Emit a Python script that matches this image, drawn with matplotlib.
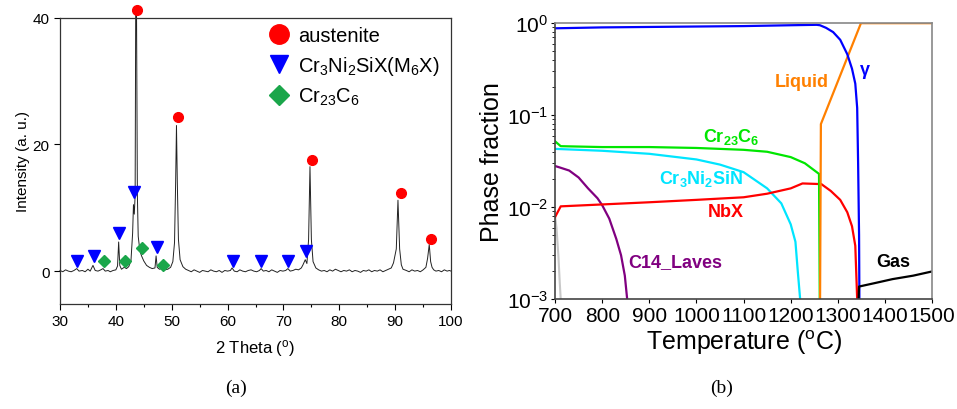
import matplotlib
matplotlib.use("Agg")
import matplotlib.pyplot as plt
from matplotlib.lines import Line2D
from matplotlib.ticker import MultipleLocator

plt.rcParams['font.family'] = ['Liberation Sans', 'DejaVu Sans']
plt.rcParams['mathtext.default'] = 'regular'

# ---- (a) XRD pattern ----
xrd_theta = [30.0, 30.5, 31.0, 31.5, 32.0, 32.5, 33.0, 33.4, 34.0, 34.5, 35.0, 35.4,
             35.9, 36.3, 36.8, 37.3, 37.7, 38.1, 38.6, 39.0, 39.5, 40.0, 40.3, 40.5,
             40.7, 41.0, 41.5, 41.9, 42.3, 42.7, 43.0, 43.15, 43.3, 43.45, 43.55, 43.7,
             43.85, 44.0, 44.3, 44.6, 45.0, 45.5, 46.0, 46.5, 47.0, 47.2, 47.4, 47.8,
             48.3, 48.8, 49.3, 49.8, 50.2, 50.5, 50.7, 50.85, 51.0, 51.2, 51.5, 52.0,
             52.5, 53.0, 53.5, 54.0, 54.5, 55.0, 55.5, 56.0, 56.5, 57.0, 57.5, 58.0,
             58.5, 59.0, 59.5, 60.0, 60.5, 60.8, 61.2, 61.7, 62.2, 62.7, 63.2, 63.7,
             64.2, 64.7, 65.2, 65.7, 66.0, 66.4, 66.9, 67.4, 67.9, 68.4, 68.9, 69.4,
             69.9, 70.4, 70.8, 71.2, 71.7, 72.2, 72.7, 73.2, 73.5, 73.9, 74.2, 74.5,
             74.75, 75.0, 75.3, 75.8, 76.3, 76.8, 77.3, 77.8, 78.3, 78.8, 79.3, 79.8,
             80.3, 80.8, 81.3, 81.8, 82.3, 82.8, 83.3, 83.8, 84.3, 84.8, 85.3, 85.8,
             86.3, 86.8, 87.3, 87.8, 88.3, 88.8, 89.3, 89.7, 90.2, 90.5, 90.8, 91.1,
             91.4, 92.0, 92.5, 93.0, 93.5, 94.0, 94.5, 95.0, 95.5, 95.8, 96.1, 96.35,
             96.6, 96.9, 97.3, 97.8, 98.3, 98.8, 99.3, 99.7, 100.0]
xrd_intensity = [0.1, -0.1, 0.2, 0.0, -0.1, 0.1, 0.4, 0.0, 0.1, -0.1, 0.3, 0.0,
                 0.9, 0.1, 0.0, 0.2, 0.4, 0.0, 0.1, -0.1, 0.1, 0.2, 0.8, 4.6,
                 0.9, 0.3, 0.6, 0.4, 0.7, 1.6, 6.0, 10.5, 9.0, 12.0, 41.0, 41.0,
                 12.0, 5.5, 3.2, 2.4, 1.6, 0.9, 0.6, 0.4, 0.5, 2.4, 0.6, 0.3,
                 0.4, 0.2, 0.3, 0.6, 1.5, 4.5, 14.0, 23.0, 14.0, 5.0, 1.8, 0.7,
                 0.3, 0.1, -0.1, 0.2, 0.0, -0.2, 0.1, 0.0, -0.1, 0.2, 0.0, -0.1,
                 0.1, -0.2, 0.1, 0.0, 0.1, 0.5, 0.0, -0.1, 0.2, 0.0, -0.1, 0.1,
                 0.2, 0.0, -0.1, 0.1, 0.4, 0.0, 0.1, -0.1, 0.2, 0.0, -0.2, 0.1,
                 0.0, 0.1, 0.4, 0.0, 0.1, 0.3, 0.2, 0.5, 1.0, 1.8, 1.2, 5.0,
                 16.5, 5.0, 1.5, 0.5, 0.2, 0.0, 0.1, -0.1, 0.2, 0.0, 0.3, 0.1,
                 -0.1, 0.1, 0.0, 0.2, -0.1, 0.1, 0.0, -0.2, 0.1, 0.0, 0.2, -0.1,
                 0.1, 0.0, 0.2, -0.1, 0.1, 0.3, 0.5, 1.3, 3.5, 11.2, 3.5, 1.0,
                 0.3, 0.1, -0.1, 0.2, 0.0, 0.1, -0.1, 0.2, 0.6, 2.0, 4.2, 1.5,
                 0.6, 0.2, 0.0, 0.1, -0.1, 0.2, 0.0, 0.1, 0.0]

austenite_x = [43.8, 51.1, 75.1, 91.0, 96.4]
austenite_y = [41.3, 24.4, 17.5, 12.4, 5.1]
m6x_x = [33.0, 36.1, 40.6, 43.3, 47.4, 61.0, 66.0, 70.8, 74.0]
m6x_y = [1.6, 2.4, 6.0, 12.5, 3.8, 1.6, 1.6, 1.6, 3.1]
cr23c6_x = [37.9, 41.6, 44.7, 48.4]
cr23c6_y = [1.6, 1.6, 3.7, 1.0]

# ---- (b) phase fractions vs temperature ----
gamma_T = [700, 800, 900, 1000, 1100, 1200, 1255, 1262, 1275, 1290, 1305, 1320,
           1330, 1337, 1341, 1343, 1345, 1346]
gamma_f = [0.88, 0.90, 0.91, 0.92, 0.93, 0.95, 0.96, 0.95, 0.89, 0.80, 0.66, 0.46,
           0.32, 0.22, 0.12, 0.03, 0.005, 0.0005]
liquid_T = [1262, 1264, 1349, 1500]
liquid_f = [0.0005, 0.08, 1.0, 1.0]
m23c6_T = [700, 712, 800, 900, 1000, 1100, 1150, 1200, 1230, 1260, 1262]
m23c6_f = [0.052, 0.046, 0.045, 0.045, 0.044, 0.042, 0.040, 0.035, 0.030, 0.023, 0.0005]
sin_T = [700, 800, 900, 1000, 1050, 1100, 1150, 1180, 1200, 1210, 1215, 1220]
sin_f = [0.043, 0.041, 0.038, 0.033, 0.029, 0.024, 0.016, 0.011, 0.0065, 0.0042, 0.002, 0.001]
nbx_T = [700, 712, 800, 900, 1000, 1100, 1150, 1200, 1225, 1265, 1285, 1305,
         1320, 1330, 1337, 1341]
nbx_f = [0.0078, 0.0102, 0.0107, 0.0113, 0.012, 0.0128, 0.0140, 0.0160, 0.0181,
         0.0178, 0.015, 0.012, 0.0088, 0.0062, 0.0038, 0.001]
laves_T = [700, 710, 730, 750, 770, 790, 800, 815, 830, 840, 848, 853]
laves_f = [0.028, 0.027, 0.025, 0.021, 0.016, 0.0125, 0.0105, 0.0075, 0.0045, 0.003,
           0.0018, 0.001]
grey_T = [700, 703, 707, 710, 712]
grey_f = [0.008, 0.006, 0.003, 0.0015, 0.001]
gas_T = [1344, 1345, 1380, 1416, 1460, 1500]
gas_f = [0.001, 0.00137, 0.0015, 0.00165, 0.0018, 0.0020]


def draw_xrd(ax):
    ax.plot(xrd_theta, xrd_intensity, color='#222222', lw=0.7, clip_on=False)
    ax.plot(austenite_x, austenite_y, 'o', color='red', ms=7, clip_on=False)
    ax.plot(m6x_x, m6x_y, 'v', color='blue', ms=8.5)
    ax.plot(cr23c6_x, cr23c6_y, 'D', color='#1aa64a', ms=6)
    ax.set_xlim(30, 100)
    ax.set_ylim(-5.2, 40)
    ax.set_yticks([0, 20, 40])
    ax.xaxis.set_minor_locator(MultipleLocator(5))
    ax.tick_params(labelsize=11, direction='out', length=4, width=0.8)
    ax.tick_params(which='minor', direction='out', length=2.5, width=0.8)
    ax.set_xlabel(r'2 Theta ($^{o}$)', fontsize=12, labelpad=6)
    ax.set_ylabel('Intensity (a. u.)', fontsize=11, labelpad=2)
    for s in ax.spines.values():
        s.set_color('#333333')
        s.set_linewidth(0.9)
    handles = [
        Line2D([], [], ls='none', marker='o', color='red', ms=14),
        Line2D([], [], ls='none', marker='v', color='blue', ms=13),
        Line2D([], [], ls='none', marker='D', color='#1aa64a', ms=10),
    ]
    labels = ['austenite', r'Cr$_3$Ni$_2$SiX(M$_6$X)', r'Cr$_{23}$C$_6$']
    ax.legend(handles, labels, loc='upper left', bbox_to_anchor=(0.5, 1.0),
              frameon=False, fontsize=14.5, handletextpad=0.2, labelspacing=0.45,
              borderaxespad=0.0, handlelength=1.5)


def draw_phases(ax):
    ax.plot(grey_T, grey_f, color='#c8c8c8', lw=1.5)
    ax.plot(laves_T, laves_f, color='#800080', lw=1.6)
    ax.plot(sin_T, sin_f, color='#00e5ff', lw=1.6)
    ax.plot(nbx_T, nbx_f, color='red', lw=1.6)
    ax.plot(m23c6_T, m23c6_f, color='#00e600', lw=1.6)
    ax.plot(liquid_T, liquid_f, color='#ff8000', lw=1.6)
    ax.plot(gamma_T, gamma_f, color='blue', lw=1.6)
    ax.plot(gas_T, gas_f, color='black', lw=1.6)
    ax.set_yscale('log')
    ax.set_xlim(700, 1500)
    ax.set_ylim(1e-3, 1)
    ax.set_xticks(range(700, 1501, 100))
    ax.tick_params(labelsize=15, direction='out', length=3, width=0.8, pad=2)
    ax.tick_params(which='minor', direction='out', length=2, width=0.6)
    ax.set_xlabel(r'Temperature ($^{o}$C)', fontsize=18, labelpad=2)
    ax.set_ylabel('Phase fraction', fontsize=18, labelpad=2)
    ax.spines['left'].set_color('#444444')
    ax.spines['bottom'].set_color('#444444')
    ax.spines['top'].set_color('#888888')
    ax.spines['right'].set_color('#888888')
    for s in ax.spines.values():
        s.set_linewidth(1.2)
    kw = dict(fontsize=13, fontweight='bold', ha='center', va='center')
    ax.text(1224, 0.234, 'Liquid', color='#ff8000', **kw)
    ax.text(1358, 0.316, 'γ', color='blue', **kw)
    ax.text(1073, 0.059, r'Cr$_{23}$C$_6$', color='#00e600', **kw)
    ax.text(1010, 0.021, r'Cr$_3$Ni$_2$SiN', color='#00e5ff', **kw)
    ax.text(1063, 0.0089, 'NbX', color='red', **kw)
    ax.text(955, 0.00259, 'C14_Laves', color='#800080', **kw)
    ax.text(1417, 0.00259, 'Gas', color='black', **kw)


def main():
    fig = plt.figure(figsize=(9.57, 4.10), dpi=100)
    ax1 = fig.add_axes([0.0627, 0.256, 0.4086, 0.698])
    ax2 = fig.add_axes([0.580, 0.268, 0.394, 0.673])
    draw_xrd(ax1)
    draw_phases(ax2)
    fig.text(0.247, 0.054, '(a)', family='Liberation Serif', fontsize=14,
             ha='center', va='center')
    fig.text(0.754, 0.054, '(b)', family='Liberation Serif', fontsize=14,
             ha='center', va='center')
    fig.savefig('out.png', dpi=100)


if __name__ == "__main__":
    main()
